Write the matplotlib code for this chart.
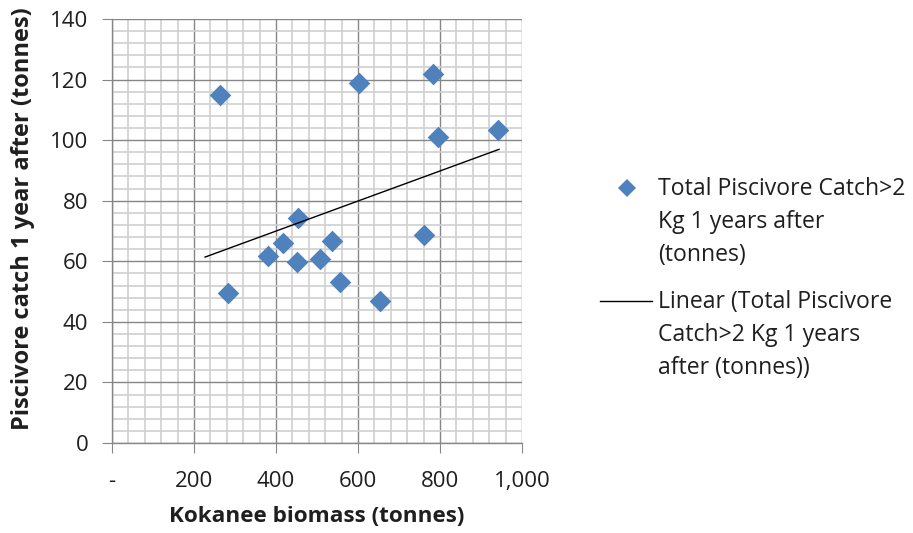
import numpy as np
import matplotlib
matplotlib.use("Agg")
import matplotlib.pyplot as plt
from matplotlib.ticker import MultipleLocator, FixedLocator
from matplotlib.lines import Line2D

# Data
kokanee_biomass = [263, 283, 380, 416, 454, 451, 507, 537, 556, 602, 654, 782, 761, 796, 942]
piscivore_catch = [115, 49.4, 61.8, 66.2, 74.2, 59.8, 60.6, 66.7, 53.0, 118.9, 47.0, 122, 68.6, 101.2, 103.5]
trend_x_range = [227, 944]
x_ticks = [0, 200, 400, 600, 800, 1000]
x_tick_labels = ["-", "200", "400", "600", "800", "1,000"]
y_ticks = [0, 20, 40, 60, 80, 100, 120, 140]

series_label = "Total Piscivore Catch>2\nKg 1 years after\n(tonnes)"
trend_label = "Linear (Total Piscivore\nCatch>2 Kg 1 years\nafter (tonnes))"

TEXT = '#1f1f1f'
BLUE = '#4F81BD'
plt.rcParams['font.family'] = ['Open Sans', 'DejaVu Sans']

W, H = 913, 533
fig = plt.figure(figsize=(W/100, H/100), dpi=100)
ax = fig.add_axes([112/W, 1-443/H, (522-112)/W, (443-19)/H])

x = np.array(kokanee_biomass, dtype=float)
y = np.array(piscivore_catch, dtype=float)
slope, intercept = np.polyfit(x, y, 1)
tx = np.array(trend_x_range, dtype=float)

ax.set_xlim(0, 1000)
ax.set_ylim(0, 140)
ax.xaxis.set_major_locator(FixedLocator(x_ticks))
ax.set_xticklabels(x_tick_labels)
ax.xaxis.set_minor_locator(MultipleLocator(40))
ax.yaxis.set_major_locator(FixedLocator(y_ticks))
ax.yaxis.set_minor_locator(MultipleLocator(4))

ax.grid(which='minor', color='#d0d0d0', linewidth=1.2, zorder=0)
ax.grid(which='major', color='#868686', linewidth=1.0, zorder=0)
ax.set_axisbelow(True)

for s in ['top', 'right']:
    ax.spines[s].set_visible(False)
for s in ['left', 'bottom']:
    ax.spines[s].set_color('#868686')
    ax.spines[s].set_linewidth(1.0)

ax.tick_params(which='major', length=7, color='#868686', labelsize=16, labelcolor=TEXT)
ax.tick_params(axis='x', pad=13)
ax.tick_params(axis='y', pad=10)
ax.tick_params(which='minor', length=0)

ax.scatter(x, y, marker='D', s=11**2, color=BLUE, zorder=3, linewidths=0)
ax.plot(tx, slope*tx + intercept, color='#000000', linewidth=1.0, zorder=4)

ax.set_xlabel("Kokanee biomass (tonnes)", fontsize=16.2, fontweight='bold', color=TEXT, va='center')
ax.xaxis.set_label_coords(0.5, (443-517)/424)
ax.set_ylabel("Piscivore catch 1 year after (tonnes)", fontsize=17, fontweight='bold', color=TEXT, va='center')
ax.yaxis.set_label_coords((23-112)/410, (443-219)/424)

# Legend (drawn manually, Excel-style: handle aligned with first text line)
def fx(px):
    return px / W

def fy(py):
    return 1 - py / H

fig.add_artist(Line2D([fx(627)], [fy(188)], marker='D', linestyle='none', color=BLUE,
                      markersize=8.7, markeredgewidth=0, transform=fig.transFigure))
fig.add_artist(Line2D([fx(600), fx(652)], [fy(301), fy(301)], color='#000000', linewidth=1.0,
                      transform=fig.transFigure))

line_gap = 33
for label, base in [(series_label, 195), (trend_label, 308)]:
    for i, line in enumerate(label.split("\n")):
        fig.text(fx(658), fy(base + i*line_gap), line, fontsize=16.6, color=TEXT,
                 ha='left', va='baseline')

fig.savefig("out.png", dpi=100)
